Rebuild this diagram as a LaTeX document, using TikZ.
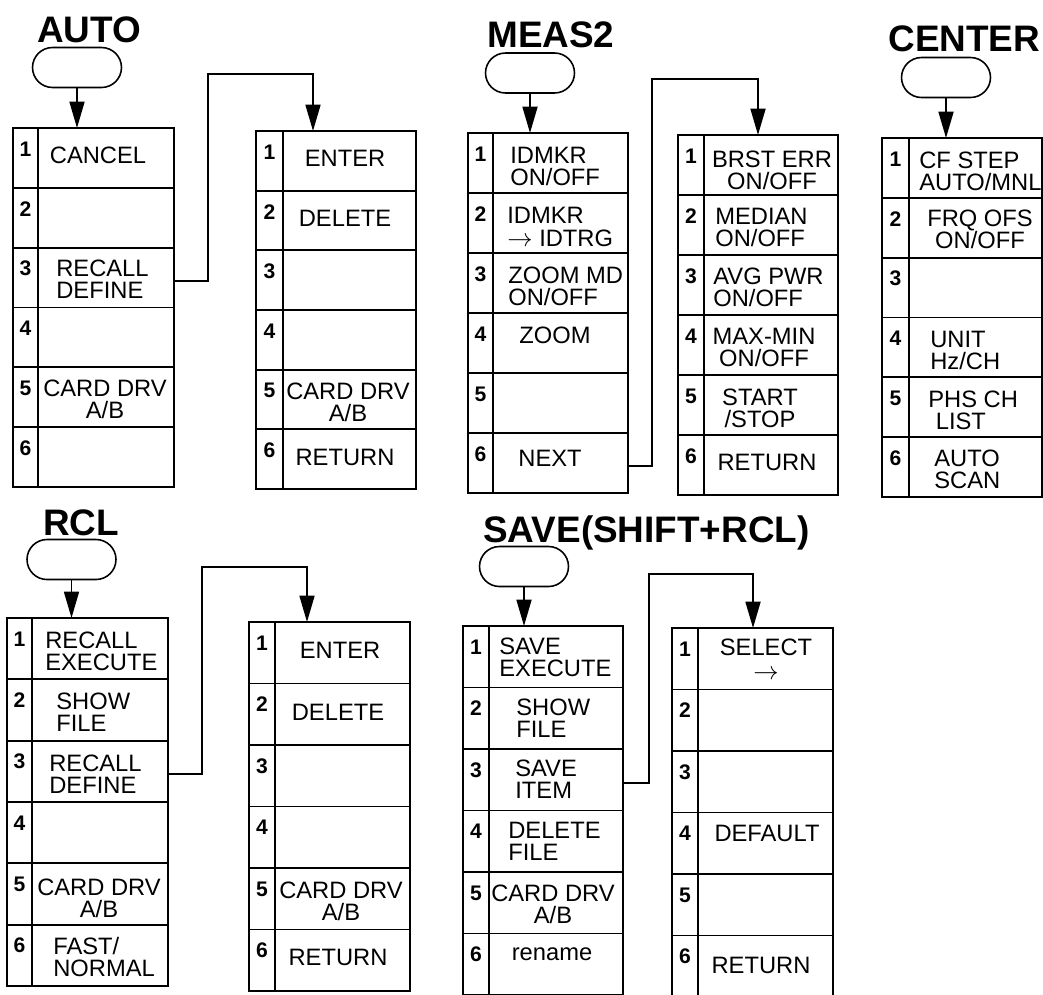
\documentclass[tikz,border=0pt]{standalone}
\usepackage{fontspec}
\setmainfont{Liberation Sans}
\usetikzlibrary{arrows.meta,shapes.misc}

\tikzset{
  colline/.style={line width=1.1pt},
  link/.style={line width=1.1pt},
  hardkey/.style={draw, rounded rectangle, line width=0.9pt, minimum width=1.78cm, minimum height=0.8cm, inner sep=0pt},
  headline/.style={font=\bfseries\fontsize{21}{24}\selectfont, anchor=base west, inner sep=0pt},
  keynum/.style={font=\bfseries\fontsize{12}{14}\selectfont, inner sep=0pt},
  celltext/.style={font=\fontsize{13.5}{12.5}\selectfont, align=center, inner sep=0pt},
  celltextl/.style={celltext, align=left, anchor=west}
}

% one soft-key column: name, left x, divider x, right x, top y, bottom y
\newcommand{\menucol}[6]{%
  \draw[colline] (#2,#5) rectangle (#4,#6);
  \draw[colline] (#3,#5) -- (#3,#6);
  \coordinate (#1-top) at (#2,#5);
  \foreach \k in {1,...,6}{
    \pgfmathsetmacro{\ya}{#5+(\k-1)*(#6-#5)/6}
    \pgfmathsetmacro{\yb}{#5+\k*(#6-#5)/6}
    \ifnum\k<6 \draw[colline] (#2,\yb) -- (#4,\yb);\fi
    \node[keynum] (#1-n\k) at ({(#2+#3)/2},{\ya+21}) {\k};
    \coordinate (#1-e\k) at (#4,{\ya+0.55*(\yb-\ya)});
  }%
}

\begin{document}
\begin{tikzpicture}[x=0.02cm, y=-0.02cm, >={Triangle[length=15pt,width=8.5pt]}]
  \useasboundingbox (0,0) rectangle (1043,994);
  \clip (0,0) rectangle (1043,994);

  % AUTO key -> first page, RECALL DEFINE -> second page
  \node[headline] (autoTitle) at (37,42) {AUTO};
  \node[hardkey]  (autoKey) at (77,67.5) {};
  \menucol{autoA}{13}{38}{174}{128}{487}
  \menucol{autoB}{256}{283}{416}{131}{489}
  \draw[link, ->] (autoKey) -- (autoKey |- autoA-top);
  \coordinate (autoUp)   at (208,74);
  \coordinate (autoOver) at (313,74);
  \draw[link, ->] (autoA-e3) -| (autoUp) -- (autoOver) -- (autoOver |- autoB-top);
  \node[celltext]  (autoA-t1) at (98,155)  {CANCEL};
  \node[celltextl] (autoA-t3) at (56,279)  {RECALL\\DEFINE};
  \node[celltext]  (autoA-t5) at (105,399) {CARD DRV\\A/B};
  \node[celltext]  (autoB-t1) at (345,158) {ENTER};
  \node[celltext]  (autoB-t2) at (345,218) {DELETE};
  \node[celltext]  (autoB-t5) at (348,402) {CARD DRV\\A/B};
  \node[celltext]  (autoB-t6) at (345,457) {RETURN};

  % MEAS2 key -> first page, NEXT -> second page
  \node[headline] (measTitle) at (487,47) {MEAS2};
  \node[hardkey]  (measKey) at (530,73) {};
  \menucol{measA}{468}{493}{628}{133}{493}
  \menucol{measB}{678}{704}{838}{135}{495}
  \draw[link, ->] (measKey) -- (measKey |- measA-top);
  \coordinate (measUp)   at (652,79);
  \coordinate (measOver) at (758,79);
  \draw[link, ->] (measA-e6) -| (measUp) -- (measOver) -- (measOver |- measB-top);
  \node[celltextl] (measA-t1) at (510,166) {IDMKR\\ON/OFF};
  \node[celltextl] (measA-t2) at (507,227) {IDMKR\\[1pt]$\rightarrow$ IDTRG};
  \node[celltextl] (measA-t3) at (508,286) {ZOOM MD\\ON/OFF};
  \node[celltext]  (measA-t4) at (555,335) {ZOOM};
  \node[celltext]  (measA-t6) at (550,458) {NEXT};
  \node[celltext]  (measB-t1) at (772,170) {BRST ERR\\ON/OFF};
  \node[celltextl] (measB-t2) at (715,227) {MEDIAN\\ON/OFF};
  \node[celltextl] (measB-t3) at (713,287) {AVG PWR\\ON/OFF};
  \node[celltext]  (measB-t4) at (764,347) {MAX-MIN\\ON/OFF};
  \node[celltext]  (measB-t5) at (760,408) {START\\/STOP};
  \node[celltext]  (measB-t6) at (767,462) {RETURN};

  % CENTER key -> single page
  \node[headline] (centerTitle) at (888,51) {CENTER};
  \node[hardkey]  (centerKey) at (946,77.5) {};
  \menucol{centerA}{882}{909}{1042}{138}{497}
  \draw[link, ->] (centerKey) -- (centerKey |- centerA-top);
  \node[celltextl] (centerA-t1) at (919,171) {CF STEP\\AUTO/MNL};
  \node[celltext]  (centerA-t2) at (980,229) {FRQ OFS\\ON/OFF};
  \node[celltextl] (centerA-t4) at (930,350) {UNIT\\Hz/CH};
  \node[celltextl] (centerA-t5) at (928,410) {PHS CH\\\hspace{0.15cm}LIST};
  \node[celltextl] (centerA-t6) at (934,469) {AUTO\\SCAN};

  % RCL key -> first page, RECALL DEFINE -> second page
  \node[headline] (rclTitle) at (43,535) {RCL};
  \node[hardkey]  (rclKey) at (71.5,559.5) {};
  \menucol{rclA}{7}{32}{168}{618}{986}
  \menucol{rclB}{249}{275}{410}{622}{991}
  \draw[link, ->] (rclKey) -- (rclKey |- rclA-top);
  \coordinate (rclUp)   at (202,567);
  \coordinate (rclOver) at (307,567);
  \draw[link, ->] (rclA-e3) -| (rclUp) -- (rclOver) -- (rclOver |- rclB-top);
  \node[celltextl] (rclA-t1) at (45,651)  {RECALL\\EXECUTE};
  \node[celltextl] (rclA-t2) at (56,712)  {SHOW\\FILE};
  \node[celltextl] (rclA-t3) at (49,774)  {RECALL\\DEFINE};
  \node[celltext]  (rclA-t5) at (99,898)  {CARD DRV\\A/B};
  \node[celltextl] (rclA-t6) at (53,957)  {FAST/\\NORMAL};
  \node[celltext]  (rclB-t1) at (340,650) {ENTER};
  \node[celltext]  (rclB-t2) at (338,712) {DELETE};
  \node[celltext]  (rclB-t5) at (341,901) {CARD DRV\\A/B};
  \node[celltext]  (rclB-t6) at (338,957) {RETURN};

  % SAVE key -> first page, SAVE ITEM -> second page (both run off the bottom)
  \node[headline] (saveTitle) at (483,542) {SAVE(SHIFT+RCL)};
  \node[hardkey]  (saveKey) at (524,566.5) {};
  \menucol{saveA}{463}{489}{623}{626}{995}
  \menucol{saveB}{672}{698}{833}{628}{997}
  \draw[link, ->] (saveKey) -- (saveKey |- saveA-top);
  \coordinate (saveUp)   at (649,574);
  \coordinate (saveOver) at (753,574);
  \draw[link, ->] (saveA-e3) -| (saveUp) -- (saveOver) -- (saveOver |- saveB-top);
  \node[celltextl] (saveA-t1) at (499,657) {SAVE\\EXECUTE};
  \node[celltextl] (saveA-t2) at (516,718) {SHOW\\FILE};
  \node[celltextl] (saveA-t3) at (515,779) {SAVE\\ITEM};
  \node[celltextl] (saveA-t4) at (508,841) {DELETE\\FILE};
  \node[celltext]  (saveA-t5) at (553,904) {CARD DRV\\A/B};
  \node[celltext]  (saveA-t6) at (552,954) {rename};
  \node[celltext]  (saveB-t1) at (766,659) {SELECT\\[1pt]$\rightarrow$};
  \node[celltext]  (saveB-t4) at (767,833) {DEFAULT};
  \node[celltext]  (saveB-t6) at (761,965) {RETURN};

\end{tikzpicture}
\end{document}
